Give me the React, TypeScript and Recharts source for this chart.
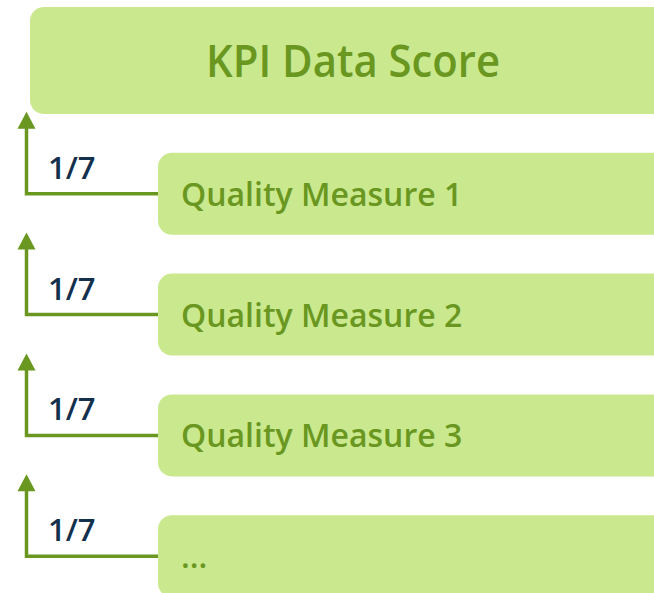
import { Bar, BarChart, LabelList, Rectangle, XAxis, YAxis } from 'recharts'

// boxes of the score tree, top to bottom
const boxNames = ['KPI Data Score', 'Quality Measure 1', 'Quality Measure 2', 'Quality Measure 3', '...']
// hierarchy depth of each box (0 = the score itself)
const levels = [0, 1, 1, 1, 1]
// weight of each measure in the score
const weights = ['', '1/7', '1/7', '1/7', '1/7']

const AXIS_MAX = 5.5

const data = boxNames.map((name, i) => ({
  name,
  level: levels[i],
  weight: weights[i],
  range: [levels[i], AXIS_MAX],
}))

const BOX = '#cae98f'
const GREEN = '#69971f'
const NAVY = '#13304c'
const FONT = "'Open Sans', 'Noto Sans', sans-serif"

function BoxShape(props: any) {
  const { x, y, width, height, payload } = props
  const level = payload.level
  if (level === 0) {
    return <Rectangle x={x} y={y - 25} width={width} height={height + 25} radius={14} fill={BOX} />
  }
  // left edge of the plot = value 0 on the x scale
  const unit = width / (AXIS_MAX - level)
  const left = x - level * unit
  const lx = left - 3.5
  const cy = y + height / 2
  const tip = y - 41
  return (
    <g>
      <polyline
        points={`${x},${cy} ${lx},${cy} ${lx},${tip + 12}`}
        fill='none'
        stroke={GREEN}
        strokeWidth={3.5}
      />
      <polygon points={`${lx},${tip} ${lx - 9},${tip + 17} ${lx + 9},${tip + 17}`} fill={GREEN} />
      <text x={left + 18} y={cy - 15} fontFamily={FONT} fontWeight={600} fontSize={31} fill={NAVY}>
        {payload.weight}
      </text>
      <Rectangle x={x} y={y} width={width} height={height} radius={14} fill={BOX} />
    </g>
  )
}

function NameLabel(props: any) {
  const { x, y, height, value, index } = props
  if (levels[index] === 0) {
    const cy = y + height / 2 - 12.5
    return (
      <text x={x + 176} y={cy + 16} fontFamily={FONT} fontWeight={600} fontSize={46} fill={GREEN}
        textLength={294} lengthAdjust='spacingAndGlyphs'>
        {value}
      </text>
    )
  }
  const cy = y + height / 2
  return (
    <text x={x + 23} y={cy + 12} fontFamily={FONT} fontWeight={600} fontSize={32} fill={GREEN}>
      {value}
    </text>
  )
}

export default function App() {
  return (
    <div style={{ position: 'absolute', left: 0, top: 0, width: 654, height: 593, overflow: 'hidden', background: '#fff' }}>
      <BarChart
        width={734}
        height={617}
        data={data}
        layout='vertical'
        margin={{ top: 13, right: 0, bottom: 0, left: 30 }}
        barSize={82}
      >
        <XAxis type='number' domain={[0, AXIS_MAX]} hide />
        <YAxis type='category' dataKey='name' hide />
        <Bar dataKey='range' shape={BoxShape} isAnimationActive={false}>
          <LabelList dataKey='name' content={NameLabel} />
        </Bar>
      </BarChart>
    </div>
  )
}
